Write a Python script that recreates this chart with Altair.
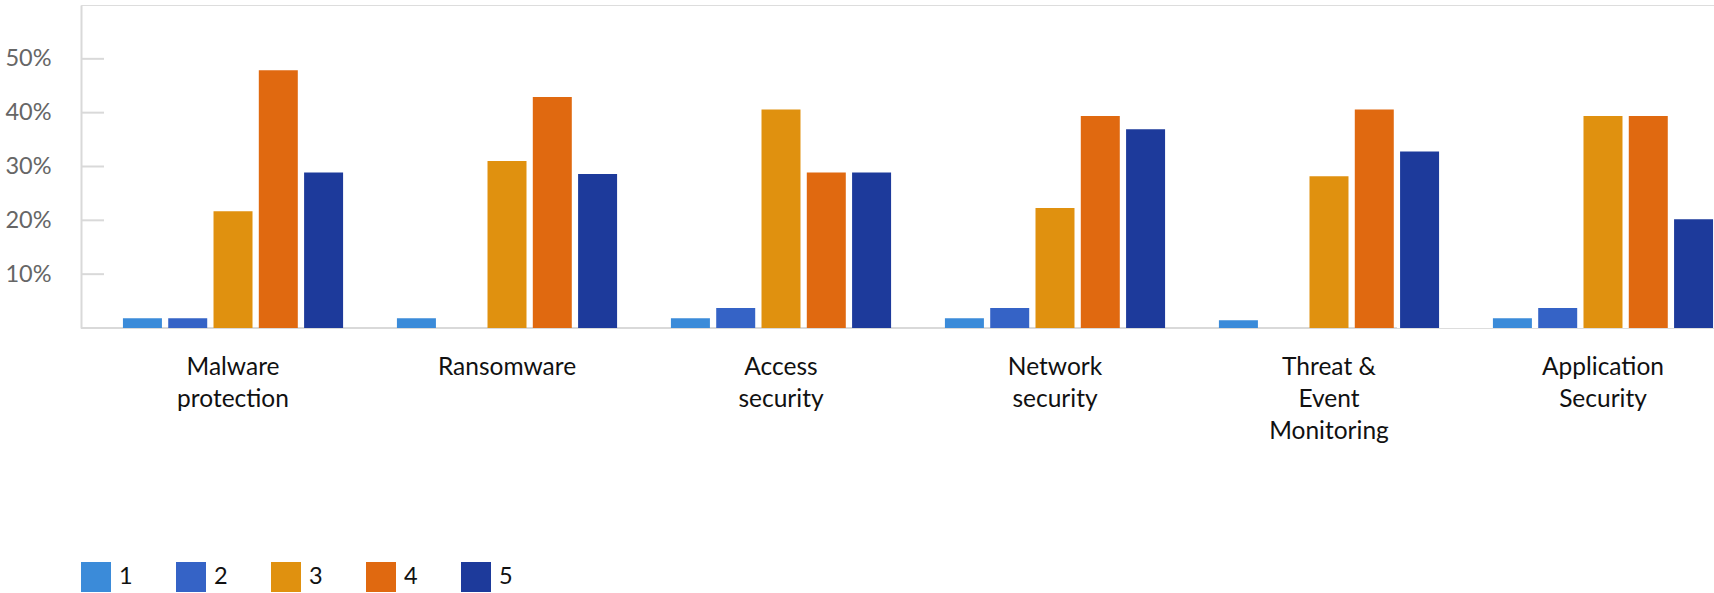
import altair as alt
import pandas as pd

# Survey results: share of respondents giving each rating (1-5) per security area
CATEGORIES = [
    "Malware\nprotection",
    "Ransomware",
    "Access\nsecurity",
    "Network\nsecurity",
    "Threat &\nEvent\nMonitoring",
    "Application\nSecurity",
]
RATINGS = ["1", "2", "3", "4", "5"]
RATING_1 = [0.018, 0.018, 0.018, 0.018, 0.0145, 0.018]
RATING_2 = [0.018, 0.0, 0.037, 0.037, 0.0, 0.037]
RATING_3 = [0.217, 0.310, 0.406, 0.223, 0.282, 0.394]
RATING_4 = [0.479, 0.429, 0.289, 0.394, 0.406, 0.394]
RATING_5 = [0.289, 0.286, 0.289, 0.369, 0.328, 0.202]
COLORS = ["#3B8BD9", "#3563C6", "#E0910F", "#E06910", "#1D3A9B"]
Y_TICKS = [0.1, 0.2, 0.3, 0.4, 0.5]

series = [RATING_1, RATING_2, RATING_3, RATING_4, RATING_5]
rows = []
for rating, values in zip(RATINGS, series):
    for cat, v in zip(CATEGORIES, values):
        rows.append({"category": cat, "rating": rating, "share": v})
df = pd.DataFrame(rows)
ticks_df = pd.DataFrame({"v": Y_TICKS})

FONT = "Lato"
GRAY = "#d9d9d9"

y_axis = alt.Axis(
    values=Y_TICKS,
    format=".0%",
    title=None,
    ticks=False,
    grid=False,
    domain=True,
    domainColor=GRAY,
    domainWidth=2,
    labelFont=FONT,
    labelFontSize=23.5,
    labelColor="#666666",
    labelPadding=30,
    labelBaseline="middle",
)
y_scale = alt.Scale(domain=[0, 0.6], nice=False)

x_enc = alt.X(
    "category:N",
    sort=CATEGORIES,
    scale=alt.Scale(range=[15, 1659], paddingInner=0.1965, paddingOuter=0.0983),
    axis=alt.Axis(
        title=None,
        domain=False,
        ticks=False,
        labelAngle=0,
        labelFont=FONT,
        labelFontSize=24.5,
        labelColor="#111111",
        labelPadding=27,
        labelBaseline="top",
        labelLineHeight=32,
        labelExpr="split(datum.label, '\\n')",
    ),
)

# light baseline under the bars (stops short of the last group)
baseline = alt.Chart(ticks_df).mark_rule(color=GRAY, strokeWidth=2).encode(
    y=alt.datum(0, scale=y_scale, axis=y_axis),
    x=alt.value(0),
    x2=alt.value(1316),
)

# short tick stubs to the right of the y axis
tick_marks = alt.Chart(ticks_df).mark_rule(color=GRAY, strokeWidth=2).encode(
    y=alt.Y("v:Q", scale=y_scale, axis=y_axis),
    x=alt.value(0),
    x2=alt.value(23),
)

bars = alt.Chart(df).mark_bar(strokeWidth=0).encode(
    x=x_enc,
    xOffset=alt.XOffset(
        "rating:N", sort=RATINGS, scale=alt.Scale(paddingInner=0.139, paddingOuter=0)
    ),
    y=alt.Y("share:Q", scale=y_scale, axis=y_axis),
    color=alt.Color(
        "rating:N",
        sort=RATINGS,
        scale=alt.Scale(domain=RATINGS, range=COLORS),
        legend=alt.Legend(
            title=None,
            orient="none",
            legendX=0,
            legendY=557,
            direction="horizontal",
            columns=5,
            symbolType="square",
            symbolSize=900,
            symbolStrokeWidth=0,
            labelFont=FONT,
            labelFontSize=23.5,
            labelColor="#111111",
            labelOffset=8,
            columnPadding=43,
            padding=0,
        ),
    ),
)

chart = (
    alt.layer(baseline, tick_marks, bars)
    .properties(
        width=1633,
        height=323,
        padding={"left": 81, "top": 5, "right": 0, "bottom": 265},
        autosize=alt.AutoSizeParams(type="none"),
    )
    .configure_view(stroke=None)
    .configure(background="white")
)

chart.save("out.html", embed_options={"renderer": "svg", "actions": False})
